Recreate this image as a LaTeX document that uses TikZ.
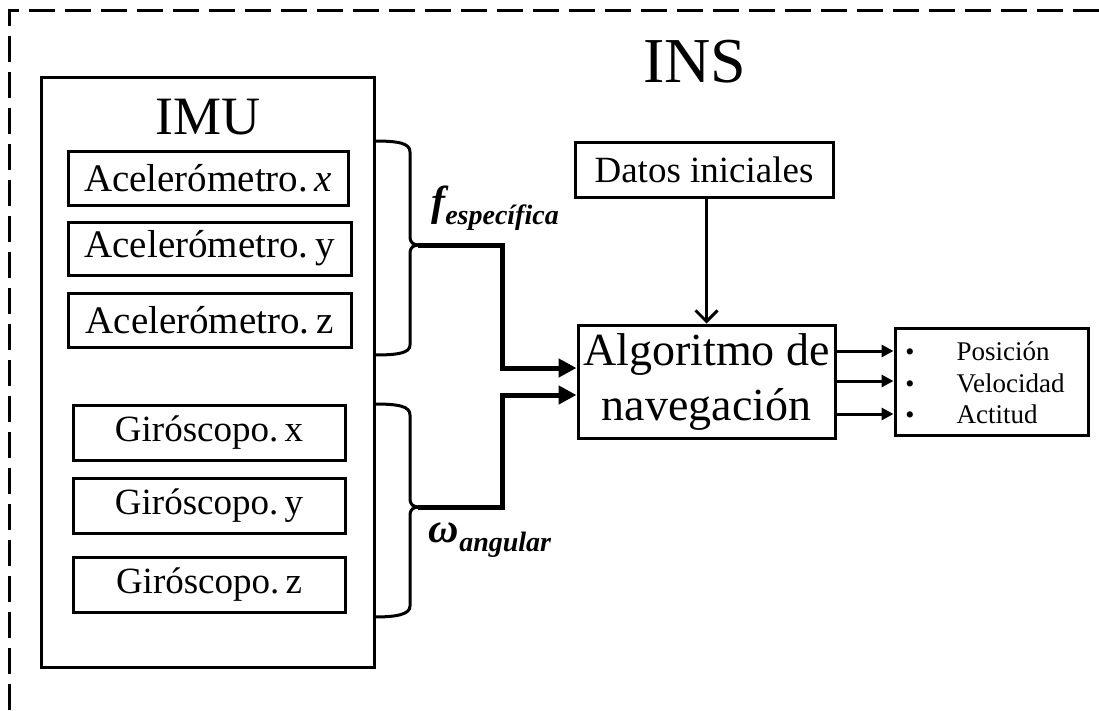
\documentclass[tikz,border=0pt]{standalone}
\usepackage{fontspec}
\setmainfont{Liberation Serif}
\usetikzlibrary{arrows.meta,calc}
\tikzset{
  box/.style={draw,line width=3pt,inner sep=0pt,align=center},
  frame/.style={line width=3pt,dash pattern=on 26pt off 10pt},
  brace/.style={line width=3pt},
  thickarr/.style={line width=5pt,-{Triangle[length=18pt,width=18pt]}},
  thinarr/.style={line width=3pt,-{Straight Barb[length=11pt,width=22pt,line width=3pt]}},
  outarr/.style={line width=3pt,-{Triangle[length=12pt,width=12pt]}},
  fs/.style={font=\fontsize{#1}{#1}\selectfont}
}
\begin{document}
\begin{tikzpicture}[x=1pt,y=-1pt]
\useasboundingbox (0,0) rectangle (1099,710);
\draw[frame] (9,710) -- (9,10) -- (1099,10);
\node[fs=64] (ins) at (695,62) {INS};
\node[box,minimum width=333pt,minimum height=590pt] (imu) at (207.5,372) {};
\node[fs=54] (imul) at (208,117) {IMU};
\node[box,fs=39,minimum width=280pt,minimum height=54pt] (acx) at (208,178) {Acelerómetro.\,\textit{x}};
\node[box,fs=39,minimum width=283pt,minimum height=53pt] (acy) at (209.5,248.5) {Acelerómetro.\,y};
\node[box,fs=39,minimum width=283pt,minimum height=54pt] (acz) at (209.5,320) {Acelerómetro.\,z};
\node[box,fs=37,minimum width=272pt,minimum height=55pt] (gx) at (209,432.5) {Giróscopo.\,x};
\node[box,fs=37,minimum width=272pt,minimum height=55pt] (gy) at (209,505.5) {Giróscopo.\,y};
\node[box,fs=37,minimum width=272pt,minimum height=55pt] (gz) at (209,584.5) {Giróscopo.\,z};
\node[box,fs=37,minimum width=258pt,minimum height=55pt] (datos) at (704,169.5) {Datos iniciales};
\node[box,minimum width=257pt,minimum height=113pt,font=\fontsize{46}{55}\selectfont] (alg) at (706.5,381.5) {Algoritmo de\\navegación};
\node[box,minimum width=193pt,minimum height=107pt] (out) at (991.5,381.5) {};
\node[fs=26,anchor=base] (b1) at (910,360) {•};
\node[fs=26,anchor=base] (b2) at (910,392) {•};
\node[fs=26,anchor=base] (b3) at (910,423) {•};
\node[fs=27,anchor=base west] (p1) at (953,360) {Posición};
\node[fs=27,anchor=base west] (p2) at (953,392) {Velocidad};
\node[fs=27,anchor=base west] (p3) at (953,423) {Actitud};
\node[fs=42] (fl) at (495,208) {\bfseries\itshape f\raisebox{-9pt}{\fontsize{28}{28}\selectfont específica}};
\node[fs=42] (wl) at (490,540) {\bfseries\itshape ω\raisebox{-9pt}{\fontsize{28}{28}\selectfont angular}};
% braces
\draw[brace] (374,141) .. controls (398,141) and (410,143) .. (410,152) -- (410,236) .. controls (410,243) and (413,245) .. (420,245) .. controls (413,245) and (410,247) .. (410,254) -- (410,345) .. controls (410,353) and (398,355) .. (374,355);
\draw[brace] (374,404) .. controls (398,404) and (410,406) .. (410,415) -- (410,498) .. controls (410,505) and (413,507) .. (420,507) .. controls (413,507) and (410,509) .. (410,516) -- (410,606) .. controls (410,614) and (398,617) .. (374,617);
\coordinate (t1) at (418,245);
\coordinate (t2) at (418,507);
\draw[thickarr] (t1) -- (502,245) |- ($(alg.west)+(0,-13.5)$);
\draw[thickarr] (t2) -- (502,507) |- ($(alg.west)+(0,13.5)$);
\draw[thinarr] (datos.south -| alg.north) -- (alg.north);
\draw[outarr] (alg.east |- 0,351) -- (out.west |- 0,351);
\draw[outarr] (alg.east |- 0,381) -- (out.west |- 0,381);
\draw[outarr] (alg.east |- 0,414) -- (out.west |- 0,414);
\end{tikzpicture}
\end{document}
